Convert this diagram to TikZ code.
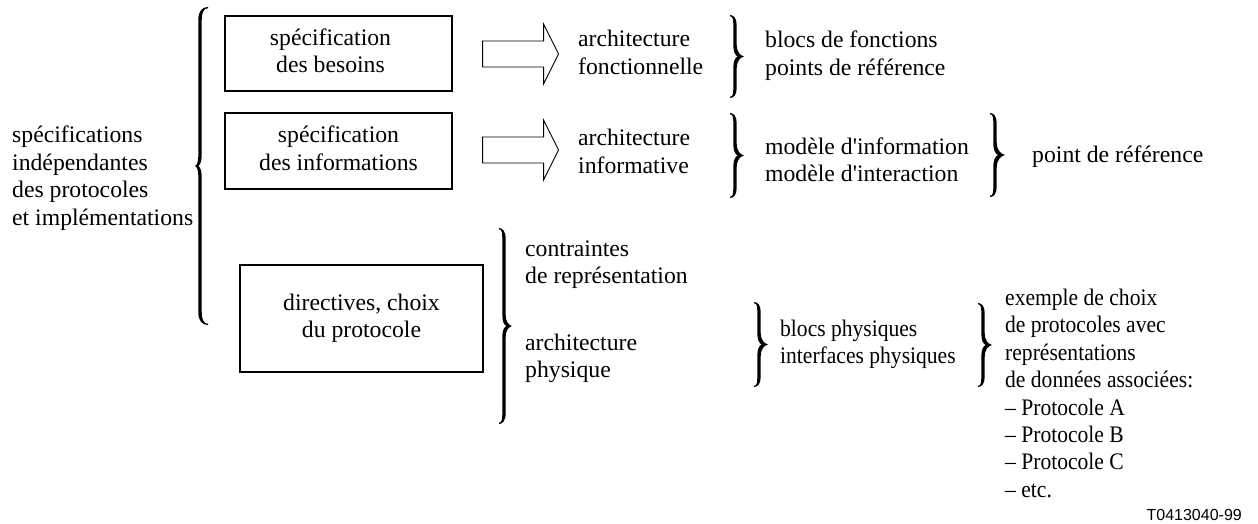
\documentclass[tikz,border=0pt]{standalone}
\usepackage{fontspec}
\setmainfont{Liberation Serif}[Ligatures=TeXOff]
\newfontfamily\narrowserif{Liberation Serif}[Ligatures=TeXOff, FakeStretch=0.91]
\newfontfamily\figlabelfont{Liberation Sans}
\usetikzlibrary{calc}

% left-aligned (or centred) stack of lines whose baseline is the first line
\newcommand\stack[2][l]{\begin{tabular}[t]{@{}#1@{}}#2\end{tabular}}

% filled typographic curly brace
% #1 direction (1 = "}", -1 = "{"), #2 x of the ends, #3 top y, #4 bottom y,
% #5 width (ends to tip), #6 stem distance from the ends, #7 hook length
\newcommand\curlybrace[7]{%
  \pgfmathsetmacro\cbH{(#4-#3)/2}%
  \pgfmathsetmacro\cbY{(#4+#3)/2}%
  \pgfmathsetmacro\cbW{#5}%
  \pgfmathsetmacro\cbS{#6}%
  \pgfmathsetmacro\cbA{#7}%
  \pgfmathsetmacro\cbC{0.85*#5}%
  \pgfmathsetmacro\cbT{3.4}%
  \begin{scope}[shift={(#2,\cbY)}, xscale=#1]
    \fill (0,{-\cbH})
      .. controls ({0.7*\cbS},{-\cbH}) and ({\cbS+\cbT/2},{-\cbH+0.3*\cbA}) .. ({\cbS+\cbT/2},{-\cbH+\cbA})
      -- ({\cbS+\cbT/2},{-\cbC})
      .. controls ({\cbS+\cbT/2},{-0.35*\cbC}) and ({\cbW-0.4*(\cbW-\cbS)},{-0.08*\cbC}) .. (\cbW,0)
      .. controls ({\cbW-0.4*(\cbW-\cbS)},{0.08*\cbC}) and ({\cbS+\cbT/2},{0.35*\cbC}) .. ({\cbS+\cbT/2},{\cbC})
      -- ({\cbS+\cbT/2},{\cbH-\cbA})
      .. controls ({\cbS+\cbT/2},{\cbH-0.3*\cbA}) and ({0.7*\cbS},{\cbH}) .. (0,{\cbH})
      -- (0,{\cbH-1.2})
      .. controls ({0.6*\cbS},{\cbH-1.2}) and ({\cbS-\cbT/2},{\cbH-0.5*\cbA}) .. ({\cbS-\cbT/2},{\cbH-\cbA})
      -- ({\cbS-\cbT/2},{\cbC})
      .. controls ({\cbS-\cbT/2},{0.4*\cbC}) and ({\cbS},{0.1*\cbC}) .. ({\cbS+0.3*(\cbW-\cbS)},0)
      .. controls ({\cbS},{-0.1*\cbC}) and ({\cbS-\cbT/2},{-0.4*\cbC}) .. ({\cbS-\cbT/2},{-\cbC})
      -- ({\cbS-\cbT/2},{-\cbH+\cbA})
      .. controls ({\cbS-\cbT/2},{-\cbH+0.5*\cbA}) and ({0.6*\cbS},{-\cbH+1.2}) .. (0,{-\cbH+1.2})
      -- cycle;
  \end{scope}}

% hollow block arrow starting at #1, pointing right
\newcommand\fatarrow[1]{%
  \draw[fat] (#1) ++(0,-13) -- ++(61,0) -- ++(0,-17) -- ++(15,30)
    -- ++(-15,30) -- ++(0,-17) -- ++(-61,0) -- cycle;}

\begin{document}
\begin{tikzpicture}[x=1pt, y=-1pt,
  font=\fontsize{23.7}{27.6}\selectfont,
  txt/.style={anchor=base west, inner sep=0pt},
  narrowtxt/.style={txt, font=\narrowserif\fontsize{23.7}{27.4}\selectfont},
  box/.style={draw, line width=1.1pt, inner sep=0pt},
  fat/.style={line width=0.9pt, line join=miter}]
\useasboundingbox (0,0) rectangle (1258,524);

% left column
\node[txt] (lt) at (12,142.5) {\stack{spécifications\\indépendantes\\des protocoles\\et implémentations}};
\curlybrace{-1}{208}{7}{325}{13}{8}{13}

% boxes
\node[box, minimum width=227, minimum height=75] (b1) at (338.5,53.5) {\hspace*{-16pt}\stack[c]{spécification\\des besoins}};
\node[box, minimum width=227, minimum height=76] (b2) at (338.5,151) {\stack[c]{spécification\\des informations}};
\node[box, minimum width=243, minimum height=107] (b3) at (361.5,318.5) {\stack[c]{directives, choix\\du protocole}};

% block arrows
\fatarrow{$(b1.east)+(30,0.5)$}
\fatarrow{$(b2.east)+(30,-1)$}

% architectures
\node[txt] (a1) at (578,47) {\stack{architecture\\fonctionnelle}};
\node[txt] (a2) at (578,146) {\stack{architecture\\informative}};
\curlybrace{1}{730}{15}{98}{14}{5}{10}
\curlybrace{1}{730}{113}{198}{14}{5}{10}
\node[txt] (r1) at (765,48) {\stack{blocs de fonctions\\points de référence}};
\node[txt] (r2) at (765,154) {\stack{modèle d'information\\modèle d'interaction}};
\curlybrace{1}{990}{113}{197}{15}{5}{10}
\node[txt] (pr) at (1032,162) {point de référence};

% physical side
\curlybrace{1}{499}{228}{424}{13}{5}{11}
\node[txt] (cr) at (525,256) {\stack{contraintes\\de représentation}};
\node[txt] (ap) at (525,350) {\stack{architecture\\physique}};
\curlybrace{1}{754}{302}{387}{14}{5}{10}
\node[narrowtxt] (bp) at (780,336) {\stack{blocs physiques\\interfaces physiques}};
\curlybrace{1}{978}{303}{387}{14}{5}{10}
\node[narrowtxt] (ex) at (1005,305.5) {\stack{exemple de choix\\de protocoles avec\\représentations\\de données associées:\\– Protocole A\\– Protocole B\\– Protocole C\\– etc.}};

\node[anchor=base east, inner sep=0pt, font=\figlabelfont\fontsize{16}{19}\selectfont] (tag) at (1242,520) {T0413040-99};
\end{tikzpicture}
\end{document}
